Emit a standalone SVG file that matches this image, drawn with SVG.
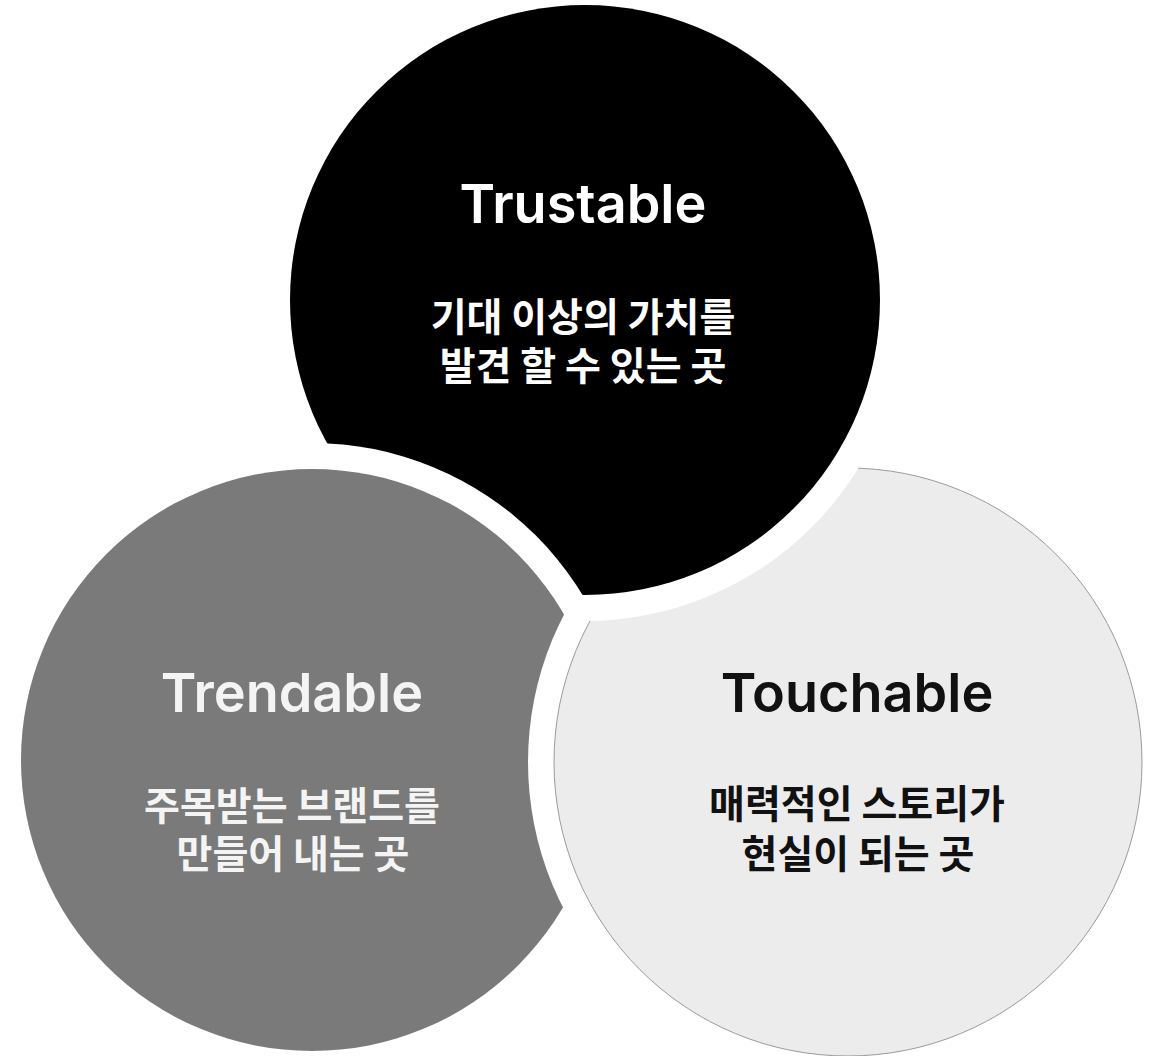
<svg xmlns="http://www.w3.org/2000/svg" width="1154" height="1056" viewBox="0 0 1154 1056">
  <style>
    .title { font-family: "Inter", "Liberation Sans", sans-serif; font-weight: 600; font-size: 54px; text-anchor: middle; }
    .sub { font-family: "Noto Sans CJK KR", "Noto Sans", sans-serif; font-weight: 700; font-size: 39px; text-anchor: middle; }
    .light { fill: #ffffff; }
    .graytxt { fill: #f4f4f4; }
    .dark { fill: #111111; }
  </style>
  <defs>
    <!-- black is cut by gray (gray above black) -->
    <mask id="mBlack" maskUnits="userSpaceOnUse" x="0" y="0" width="1154" height="1056">
      <rect x="0" y="0" width="1154" height="1056" fill="#fff"/>
      <circle cx="312" cy="760" r="317" fill="#000"/>
    </mask>
    <!-- gray is cut by light (light above gray) -->
    <mask id="mGray" maskUnits="userSpaceOnUse" x="0" y="0" width="1154" height="1056">
      <rect x="0" y="0" width="1154" height="1056" fill="#fff"/>
      <circle cx="848" cy="762" r="320" fill="#000"/>
    </mask>
    <!-- light is cut by black (black above light) -->
    <mask id="mLight" maskUnits="userSpaceOnUse" x="0" y="0" width="1154" height="1056">
      <rect x="0" y="0" width="1154" height="1056" fill="#fff"/>
      <circle cx="585" cy="300" r="321" fill="#000"/>
    </mask>
  </defs>
  <rect x="0" y="0" width="1154" height="1056" fill="#ffffff"/>

  <g id="trustable">
    <circle cx="585" cy="300" r="295" fill="#000000" mask="url(#mBlack)"/>
    <text class="title light" x="583" y="223">Trustable</text>
    <text class="sub light" x="583" y="331">기대 이상의 가치를</text>
    <text class="sub light" x="583" y="380">발견 할 수 있는 곳</text>
  </g>

  <g id="trendable">
    <circle cx="312" cy="760" r="291" fill="#7a7a7a" mask="url(#mGray)"/>
    <text class="title graytxt" x="292" y="712">Trendable</text>
    <text class="sub graytxt" x="292" y="820">주목받는 브랜드를</text>
    <text class="sub graytxt" x="293" y="868">만들어 내는 곳</text>
  </g>

  <g id="touchable">
    <circle cx="848" cy="762" r="294" fill="#ececec" stroke="#9a9a9a" stroke-width="1" mask="url(#mLight)"/>
    <text class="title dark" x="857" y="712">Touchable</text>
    <text class="sub dark" x="857" y="818">매력적인 스토리가</text>
    <text class="sub dark" x="858" y="868">현실이 되는 곳</text>
  </g>
</svg>
